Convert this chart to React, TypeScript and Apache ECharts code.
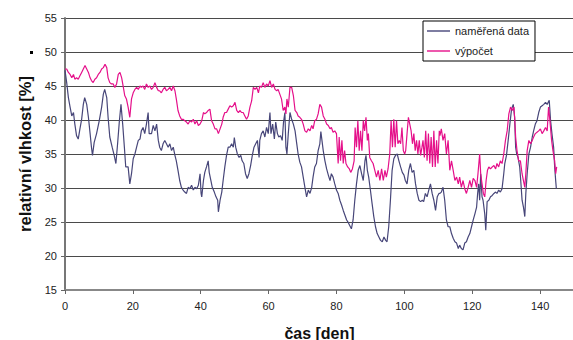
import React, { useEffect, useRef } from "react";
import * as echarts from "echarts";

// Measured relative humidity [day, %]
const measuredData: [number, number][] = [
  [0.0, 47.3], [0.5, 45.5], [1.0, 43.3], [1.5, 41.9], [2.0, 40.6], [2.5, 41.1], [2.9, 39.4], [3.4, 37.7],
  [3.9, 37.2], [4.4, 38.7], [4.9, 40.1], [5.4, 42.3], [5.8, 43.3], [6.4, 42.3], [6.9, 40.4], [7.4, 38.0],
  [7.8, 36.0], [8.1, 34.8], [8.6, 36.7], [9.3, 38.0], [10.1, 39.9], [10.8, 41.9], [11.3, 43.8], [11.7, 44.5],
  [12.3, 43.3], [12.7, 40.4], [13.2, 37.5], [13.9, 36.0], [14.5, 34.8], [15.0, 33.6], [15.5, 36.5], [16.0, 39.7],
  [16.5, 42.3], [17.0, 39.4], [17.5, 36.0], [17.9, 33.1], [18.6, 33.1], [19.1, 30.6], [19.6, 32.1], [20.1, 34.3],
  [20.6, 35.0], [21.1, 36.0], [21.6, 37.0], [22.1, 37.2], [22.5, 38.4], [23.0, 38.9], [23.5, 38.0], [24.0, 39.4],
  [24.5, 41.1], [24.8, 38.0], [25.5, 38.0], [26.0, 39.2], [26.5, 38.4], [27.0, 39.4], [27.5, 37.0], [27.9, 36.0],
  [28.4, 35.5], [28.9, 36.5], [29.4, 37.0], [29.9, 36.5], [30.4, 36.0], [30.9, 36.5], [31.4, 35.5], [31.9, 36.0],
  [32.4, 34.8], [32.8, 34.0], [33.3, 32.6], [33.8, 31.1], [34.3, 30.1], [34.8, 29.7], [35.3, 29.4], [35.8, 29.2],
  [36.3, 30.1], [36.8, 29.9], [37.3, 30.4], [37.8, 29.7], [38.3, 30.1], [38.8, 29.9], [39.3, 30.4], [39.8, 32.1],
  [40.1, 29.2], [40.3, 28.7], [40.8, 31.1], [41.2, 32.3], [41.7, 33.1], [42.2, 34.0], [42.5, 32.3], [43.0, 31.1],
  [43.4, 30.1], [44.0, 29.4], [44.5, 28.7], [45.0, 28.2], [45.2, 26.5], [45.7, 28.2], [46.2, 29.4], [46.6, 31.1],
  [47.1, 33.1], [47.6, 34.8], [48.1, 36.0], [48.6, 36.0], [49.1, 36.5], [49.6, 36.0], [49.9, 37.4], [50.3, 36.0],
  [50.8, 35.0], [51.3, 34.5], [51.8, 34.8], [52.2, 34.0], [52.7, 33.6], [53.2, 32.1], [53.7, 31.4], [54.2, 32.1],
  [54.7, 33.3], [55.2, 34.8], [55.7, 36.0], [56.2, 36.5], [56.7, 37.0], [57.2, 34.5], [57.4, 37.0], [57.9, 38.0],
  [58.4, 38.4], [58.9, 37.5], [59.4, 38.9], [59.9, 38.0], [60.4, 41.1], [60.7, 38.0], [61.2, 39.4], [61.7, 37.2],
  [62.1, 39.7], [62.6, 38.0], [63.0, 37.5], [63.5, 37.7], [64.0, 37.0], [64.4, 39.7], [64.8, 41.1], [65.1, 36.0],
  [65.4, 35.0], [65.8, 38.0], [66.3, 41.1], [66.8, 40.1], [67.3, 39.4], [67.8, 38.4], [68.3, 36.5], [68.7, 35.0],
  [69.2, 33.8], [69.7, 33.1], [70.2, 31.6], [70.7, 30.1], [71.2, 28.7], [71.7, 29.7], [72.2, 29.2], [72.7, 30.1],
  [73.1, 31.6], [73.6, 33.1], [74.1, 33.6], [74.6, 35.5], [75.1, 36.5], [75.4, 38.3], [76.1, 35.5], [76.6, 34.0],
  [77.1, 32.8], [77.6, 31.9], [78.1, 31.1], [78.5, 32.1], [79.0, 31.6], [79.5, 30.6], [80.0, 29.7], [80.5, 29.2],
  [81.0, 28.2], [81.5, 27.5], [82.0, 26.7], [82.5, 26.0], [83.0, 25.3], [83.5, 24.9], [83.9, 24.5], [84.4, 24.0],
  [84.9, 25.3], [85.4, 28.2], [85.9, 30.6], [86.4, 32.6], [86.9, 33.3], [87.4, 32.1], [87.9, 31.1], [88.4, 34.0],
  [88.7, 34.8], [89.1, 32.6], [89.5, 31.6], [90.0, 29.7], [90.5, 27.7], [91.0, 25.8], [91.5, 24.3], [92.0, 23.3],
  [92.5, 22.8], [93.0, 22.3], [93.5, 22.1], [94.0, 22.8], [94.5, 22.3], [94.9, 22.1], [95.4, 24.3], [95.9, 28.2],
  [96.4, 32.6], [96.9, 34.3], [97.4, 34.8], [97.9, 35.0], [98.4, 34.0], [98.9, 33.1], [99.4, 32.3], [99.9, 31.9],
  [100.3, 31.1], [100.8, 30.6], [101.3, 32.6], [101.8, 33.6], [102.3, 32.3], [102.8, 32.6], [103.3, 30.6], [103.8, 29.2],
  [104.3, 28.2], [104.8, 28.0], [105.3, 28.2], [105.7, 28.0], [106.2, 29.2], [106.7, 28.7], [107.2, 29.7], [107.7, 30.6],
  [108.2, 29.2], [108.7, 28.2], [109.2, 26.7], [109.7, 28.7], [110.2, 29.2], [110.5, 29.2], [110.9, 29.4], [111.4, 30.1],
  [111.9, 28.2], [112.4, 25.3], [112.9, 24.3], [113.4, 24.3], [113.9, 23.3], [114.4, 22.6], [114.9, 22.1], [115.4, 21.9],
  [115.9, 21.1], [116.3, 21.6], [116.8, 21.1], [117.3, 20.9], [117.8, 21.9], [118.3, 22.1], [118.8, 22.8], [119.3, 23.3],
  [119.8, 24.3], [120.3, 25.3], [120.8, 26.2], [121.3, 27.2], [121.6, 29.2], [121.9, 30.6], [122.2, 28.2], [122.5, 32.1],
  [122.9, 28.7], [123.2, 28.2], [123.7, 26.2], [124.0, 23.8], [124.4, 28.0], [124.9, 28.2], [125.4, 28.7], [125.9, 28.9],
  [126.4, 29.2], [126.9, 29.4], [127.3, 29.2], [127.8, 29.7], [128.3, 29.4], [128.8, 29.9], [129.3, 32.1], [129.6, 33.6],
  [130.1, 34.8], [130.6, 37.0], [131.1, 39.4], [131.6, 41.6], [132.1, 42.3], [132.5, 40.4], [132.8, 36.0], [133.1, 35.0],
  [133.5, 34.5], [134.0, 33.1], [134.3, 31.1], [134.7, 28.2], [135.1, 27.2], [135.5, 25.8], [135.8, 29.2], [136.2, 32.1],
  [136.7, 35.0], [137.2, 36.0], [137.7, 37.5], [138.1, 38.4], [138.6, 39.4], [139.1, 39.9], [139.6, 41.1], [140.1, 41.9],
  [140.6, 42.1], [141.1, 42.3], [141.6, 42.6], [142.1, 42.3], [142.7, 42.9], [143.1, 39.9], [143.5, 38.0], [144.0, 36.0],
  [144.3, 33.1], [144.6, 31.1], [144.8, 29.9],
];

// Computed relative humidity [day, %]
const computedData: [number, number][] = [
  [0.0, 47.5], [0.5, 47.5], [1.0, 47.0], [1.5, 46.7], [2.0, 46.2], [2.5, 46.7], [2.9, 46.0], [3.4, 46.2],
  [3.9, 46.0], [4.4, 46.5], [4.9, 47.0], [5.4, 47.5], [5.9, 48.0], [6.4, 47.5], [6.9, 47.0], [7.4, 46.2],
  [7.8, 45.8], [8.3, 45.5], [8.8, 46.0], [9.3, 46.2], [9.8, 46.7], [10.3, 47.0], [10.8, 47.5], [11.3, 47.7],
  [11.8, 48.2], [12.3, 47.7], [12.7, 46.2], [13.2, 45.5], [13.7, 45.3], [14.2, 45.3], [14.7, 44.8], [15.2, 45.3],
  [15.7, 46.7], [16.2, 47.0], [16.7, 46.2], [17.2, 44.8], [17.6, 43.6], [18.1, 43.1], [18.6, 41.9], [19.1, 40.4],
  [19.6, 43.1], [20.1, 44.0], [20.6, 44.5], [21.1, 44.8], [21.6, 44.5], [22.1, 45.0], [22.5, 44.8], [23.0, 45.0],
  [23.5, 44.5], [24.0, 45.3], [24.5, 44.8], [25.0, 45.0], [25.5, 44.5], [26.0, 44.8], [26.5, 45.5], [27.0, 44.8],
  [27.5, 44.3], [27.9, 44.3], [28.4, 44.0], [28.9, 44.5], [29.4, 44.8], [29.9, 44.3], [30.4, 44.5], [30.9, 44.8],
  [31.4, 44.3], [31.9, 45.0], [32.4, 44.3], [32.8, 43.1], [33.3, 41.4], [33.8, 40.6], [34.3, 40.1], [34.8, 40.1],
  [35.3, 39.9], [35.8, 39.7], [36.3, 39.4], [36.8, 39.9], [37.3, 39.7], [37.8, 40.1], [38.3, 39.4], [38.8, 39.9],
  [39.3, 39.2], [39.8, 39.4], [40.3, 39.9], [40.8, 41.1], [41.2, 40.9], [41.7, 41.1], [42.2, 41.4], [42.7, 41.6],
  [43.2, 39.9], [43.7, 39.4], [44.2, 38.7], [44.7, 38.7], [45.2, 38.0], [45.7, 38.7], [46.2, 39.4], [46.6, 40.4],
  [47.1, 41.1], [47.6, 41.1], [48.1, 41.6], [48.6, 42.1], [49.1, 41.9], [49.6, 42.1], [50.1, 42.6], [50.6, 41.4],
  [51.1, 41.1], [51.6, 41.4], [52.0, 41.1], [52.5, 41.1], [53.0, 40.6], [53.5, 40.1], [54.0, 40.6], [54.5, 41.9],
  [55.0, 42.8], [55.5, 44.8], [56.0, 44.5], [56.5, 44.8], [57.0, 44.0], [57.4, 45.0], [57.9, 44.8], [58.4, 45.5],
  [58.9, 44.8], [59.4, 45.3], [59.9, 45.0], [60.4, 45.8], [60.9, 44.8], [61.4, 45.3], [61.9, 44.5], [62.4, 44.3],
  [62.8, 44.5], [63.3, 43.8], [63.8, 43.1], [64.3, 41.4], [64.8, 41.9], [65.1, 40.9], [65.4, 43.1], [65.8, 41.9],
  [66.3, 44.8], [66.8, 44.8], [67.3, 43.6], [67.8, 41.4], [68.3, 41.1], [68.7, 40.6], [69.2, 40.4], [69.7, 40.1],
  [70.2, 39.4], [70.7, 38.4], [71.2, 38.2], [71.7, 38.7], [72.2, 38.4], [72.7, 39.2], [73.1, 38.7], [73.6, 39.9],
  [74.1, 40.1], [74.6, 40.9], [75.1, 42.3], [75.6, 41.9], [76.1, 40.6], [76.6, 40.1], [77.1, 39.4], [77.6, 39.2],
  [78.1, 38.7], [78.5, 38.9], [79.0, 38.2], [79.5, 38.4], [80.0, 38.0], [80.5, 33.6], [80.8, 37.5], [81.2, 34.0],
  [81.6, 37.0], [82.0, 33.6], [82.4, 35.5], [82.8, 33.6], [83.3, 33.1], [83.8, 32.8], [84.2, 32.3], [84.7, 32.8],
  [85.2, 34.0], [85.5, 38.9], [85.9, 36.0], [86.3, 39.9], [86.7, 35.5], [87.1, 38.4], [87.5, 35.5], [87.9, 39.9],
  [88.3, 38.4], [88.7, 40.4], [89.1, 37.0], [89.4, 38.0], [89.8, 34.5], [90.3, 34.0], [90.8, 33.6], [91.3, 32.6],
  [91.8, 31.6], [92.3, 32.6], [92.8, 31.1], [93.3, 32.8], [93.8, 31.1], [94.3, 32.6], [94.7, 31.6], [95.2, 32.8],
  [95.7, 35.0], [96.1, 39.9], [96.5, 36.0], [96.9, 40.1], [97.3, 36.0], [97.7, 39.9], [98.1, 36.5], [98.5, 37.0],
  [98.9, 36.5], [99.3, 38.9], [99.7, 35.5], [100.1, 35.0], [100.4, 35.5], [100.8, 38.0], [101.2, 40.4], [101.6, 39.4],
  [102.0, 38.4], [102.4, 36.5], [102.8, 38.0], [103.2, 35.5], [103.6, 37.0], [104.0, 35.0], [104.4, 37.0], [104.8, 34.8],
  [105.2, 36.0], [105.5, 37.0], [105.9, 34.5], [106.3, 38.4], [106.7, 34.0], [107.1, 38.0], [107.5, 33.6], [107.9, 37.5],
  [108.3, 33.1], [108.7, 38.4], [109.1, 33.1], [109.5, 37.0], [109.9, 33.6], [110.3, 38.4], [110.5, 37.7], [110.9, 38.7],
  [111.4, 37.0], [111.9, 38.0], [112.4, 35.0], [112.9, 37.0], [113.4, 32.6], [113.9, 34.0], [114.4, 32.6], [114.9, 31.1],
  [115.4, 31.6], [115.9, 30.6], [116.3, 31.6], [116.8, 30.1], [117.3, 31.1], [117.8, 29.9], [118.3, 29.2], [118.8, 30.1],
  [119.3, 31.1], [119.8, 30.1], [120.3, 31.4], [120.8, 31.1], [121.3, 30.1], [121.7, 32.1], [122.2, 35.0], [122.5, 32.1],
  [122.9, 30.6], [123.3, 29.2], [123.7, 28.7], [124.1, 31.1], [124.5, 32.6], [124.9, 33.1], [125.4, 32.8], [125.9, 33.1],
  [126.4, 33.3], [126.9, 32.8], [127.3, 33.6], [127.8, 33.1], [128.3, 34.0], [128.8, 33.6], [129.3, 35.0], [129.8, 37.0],
  [130.3, 38.4], [130.8, 40.9], [131.3, 41.9], [131.8, 41.4], [132.3, 41.9], [132.5, 40.4], [132.8, 37.5], [133.2, 35.5],
  [133.7, 34.0], [134.2, 34.0], [134.7, 32.1], [135.1, 31.1], [135.5, 30.1], [135.8, 32.1], [136.2, 35.5], [136.7, 37.0],
  [137.2, 36.5], [137.7, 37.0], [138.1, 37.5], [138.6, 38.0], [139.1, 38.2], [139.6, 38.4], [140.1, 38.7], [140.6, 38.0],
  [141.1, 38.4], [141.6, 38.9], [142.1, 38.4], [142.5, 41.9], [142.9, 39.9], [143.4, 37.0], [143.8, 35.5], [144.3, 34.0],
  [144.6, 32.1], [144.9, 33.1],
];

const seriesNames = ["naměřená data", "výpočet"];
const seriesColors = ["#474679", "#e5108a"];
const yTitle = "relativní vlhkost [%]";
const xTitle = "čas [den]";

export default function App() {
  const ref = useRef<HTMLDivElement>(null);
  useEffect(() => {
    if (!ref.current) return;
    const chart = echarts.init(ref.current, undefined, { renderer: "svg" });
    const font = "'Liberation Sans', Arial, sans-serif";
    chart.setOption({
      animation: false,
      textStyle: { fontFamily: font },
      grid: { left: 65, right: -1, top: 18, bottom: 50, containLabel: false, outerBoundsMode: "none" },
      legend: {
        orient: "vertical",
        left: 423,
        top: 21,
        padding: [4, 6, 4, 4],
        itemGap: 8,
        itemWidth: 23,
        itemHeight: 1.4,
        icon: "rect",
        backgroundColor: "#fff",
        borderColor: "#000",
        borderWidth: 1,
        borderRadius: 0,
        textStyle: { fontSize: 11, color: "#222", fontFamily: font, lineHeight: 12 },
        data: seriesNames,
      },
      xAxis: {
        type: "value",
        min: 0,
        max: 150,
        interval: 20,
        name: xTitle,
        nameLocation: "middle",
        nameGap: 35,
        nameTextStyle: { fontSize: 16, fontWeight: "bold", color: "#111", fontFamily: font },
        axisLine: { show: true, onZero: false, lineStyle: { color: "#888", width: 2 } },
        axisTick: { show: true, length: 4, inside: false, lineStyle: { color: "#666" } },
        axisLabel: { fontSize: 11, color: "#222", margin: 10, showMaxLabel: false },
        splitLine: { show: false },
      },
      yAxis: {
        type: "value",
        min: 15,
        max: 55,
        interval: 5,
        name: yTitle,
        nameLocation: "middle",
        nameGap: 31,
        nameTextStyle: { fontSize: 16.5, fontWeight: "bold", color: "#111", fontFamily: font },
        axisLine: { show: true, lineStyle: { color: "#777", width: 2 } },
        axisTick: { show: true, length: 4, lineStyle: { color: "#666" } },
        axisLabel: { fontSize: 11, color: "#222", margin: 8 },
        splitLine: { show: true, lineStyle: { color: "#4a4a4a", width: 1 } },
      },
      graphic: [
        { type: "rect", left: 30, top: 51, shape: { width: 3, height: 3 }, style: { fill: "#000" } },
      ],
      series: [
        {
          name: seriesNames[0],
          type: "line",
          data: measuredData,
          symbol: "none",
          lineStyle: { color: seriesColors[0], width: 1.2 },
          itemStyle: { color: seriesColors[0] },
        },
        {
          name: seriesNames[1],
          type: "line",
          data: computedData,
          symbol: "none",
          lineStyle: { color: seriesColors[1], width: 1.2 },
          itemStyle: { color: seriesColors[1] },
        },
      ],
    });
    return () => chart.dispose();
  }, []);
  return <div ref={ref} style={{ width: 573, height: 340, position: "absolute", left: 0, top: 0 }} />;
}
